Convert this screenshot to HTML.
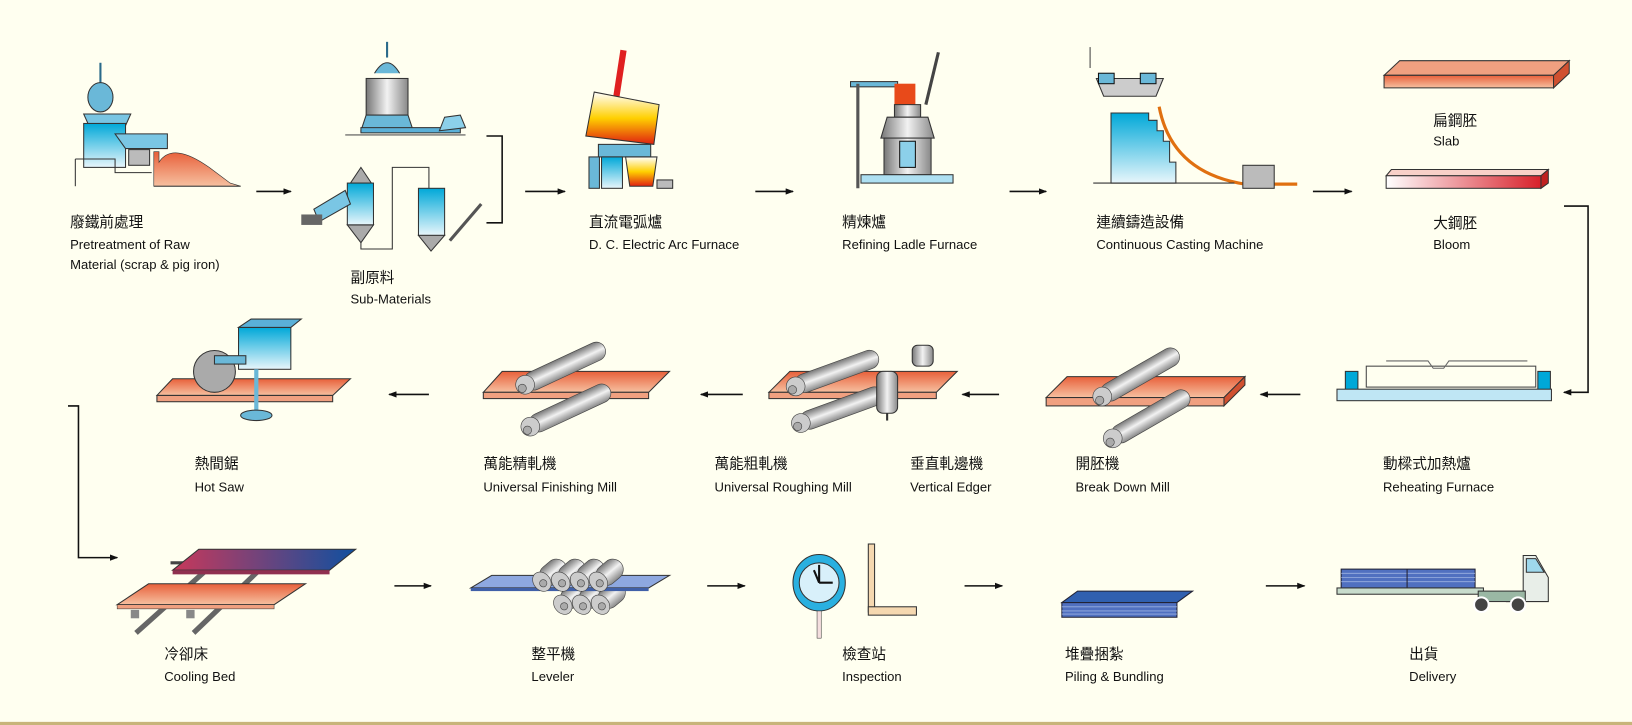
<!DOCTYPE html>
<html><head><meta charset="utf-8"><style>
html,body{margin:0;padding:0;background:#fffff0;}
svg{display:block;}
text{font-family:"Liberation Sans","Noto Sans CJK TC",sans-serif;fill:#111;}
.c{font-size:14px;}
.e{font-size:12.5px;}
</style></head><body>
<svg width="1632" height="725" viewBox="0 0 1560 693" preserveAspectRatio="none" xmlns="http://www.w3.org/2000/svg">
<defs>
<marker id="ah" markerWidth="8" markerHeight="6" refX="7" refY="3" orient="auto" markerUnits="userSpaceOnUse"><path d="M0,0 L8,3 L0,6 z" fill="#111"/></marker>
<linearGradient id="org" x1="0" y1="0" x2="0" y2="1"><stop offset="0" stop-color="#e8603a"/><stop offset="1" stop-color="#f6c0a0"/></linearGradient>
<linearGradient id="bloom" x1="0" y1="0" x2="1" y2="0"><stop offset="0" stop-color="#fff"/><stop offset="1" stop-color="#d8202a"/></linearGradient>
<linearGradient id="blu" x1="0" y1="0" x2="0" y2="1"><stop offset="0" stop-color="#00a8d8"/><stop offset="1" stop-color="#e8f6fb"/></linearGradient>
<linearGradient id="gry" x1="0" y1="0" x2="0" y2="1"><stop offset="0" stop-color="#777"/><stop offset=".5" stop-color="#f2f2f2"/><stop offset="1" stop-color="#888"/></linearGradient>
<linearGradient id="gryh" x1="0" y1="0" x2="1" y2="0"><stop offset="0" stop-color="#777"/><stop offset=".5" stop-color="#f2f2f2"/><stop offset="1" stop-color="#888"/></linearGradient>
<linearGradient id="pb" x1="0" y1="0" x2="1" y2="0"><stop offset="0" stop-color="#c8385a"/><stop offset="1" stop-color="#1050a0"/></linearGradient>
<linearGradient id="fire" x1="0" y1="0" x2="0" y2="1"><stop offset="0" stop-color="#fff"/><stop offset=".5" stop-color="#ffd000"/><stop offset="1" stop-color="#e02010"/></linearGradient>
<g id="roll"><rect x="-42" y="-9" width="84" height="18" rx="9" fill="url(#gry)" stroke="#444" stroke-width=".6"/><circle cx="-42" cy="0" r="9" fill="#ccc" stroke="#444" stroke-width=".6"/><circle cx="-46" cy="2" r="4" fill="#aaa" stroke="#444" stroke-width=".6"/></g>
<g id="lr"><rect x="0" y="-10" width="28" height="20" rx="10" fill="url(#gry)" stroke="#444" stroke-width=".6"/><ellipse cx="0" cy="0" rx="8" ry="10" fill="#ccc" stroke="#444" stroke-width=".6"/><circle cx="0" cy="2" r="3.5" fill="#aaa" stroke="#444" stroke-width=".6"/></g>
</defs>

<rect x="0" y="690" width="1560" height="3" fill="#c8b47a"/>

<!-- ROW 1 illustrations -->
<line x1="96" y1="60" x2="96" y2="80" stroke="#2a6a8a" stroke-width="2"/>
<ellipse cx="96" cy="93" rx="12" ry="14" fill="#6ab8d8" stroke="#333"/>
<path d="M80,109 L125,109 L120,120 L85,120 z" fill="#79c5e3" stroke="#333"/>
<rect x="80" y="118" width="40" height="42" fill="url(#blu)" stroke="#333"/>
<path d="M110,128 L160,128 L160,142 L120,142 z" fill="#7ac6e4" stroke="#333"/>
<rect x="123" y="143" width="20" height="15" fill="#bbb" stroke="#333"/>
<path d="M72,152 L72,178" stroke="#333"/><path d="M72,152 L110,152 L110,165 L145,165" fill="none" stroke="#333"/>
<path d="M147,178 L147,145 L152,145 L152,155 Q165,135 200,160 L220,175 L230,178 z" fill="url(#org)" stroke="#333" stroke-width=".6"/>
<line x1="147" y1="178" x2="230" y2="178" stroke="#333"/>
<line x1="370" y1="40" x2="370" y2="55" stroke="#2a6a8a" stroke-width="2"/>
<path d="M358,70 Q370,50 382,70" fill="#6ab8d8" stroke="#333"/>
<rect x="350" y="75" width="40" height="35" fill="url(#gryh)" stroke="#333"/>
<path d="M350,110 L390,110 L395,125 L345,125 z" fill="#6ab8d8" stroke="#333"/>
<rect x="345" y="122" width="95" height="5" fill="#5ab0d8" stroke="#333"/>
<path d="M420,125 L425,112 L440,110 L445,122 z" fill="#8cd0ea" stroke="#333"/>
<line x1="330" y1="129" x2="445" y2="129" stroke="#555"/>
<path d="M335,175 L345,160 L355,175 z" fill="#aaa" stroke="#333"/>
<rect x="332" y="175" width="25" height="40" fill="url(#blu)" stroke="#333"/>
<path d="M332,215 L357,215 L345,232 z" fill="#aaa" stroke="#333"/>
<path d="M300,200 L330,182 L335,195 L305,212 z" fill="#7ac6e4" stroke="#333"/>
<rect x="288" y="205" width="20" height="10" fill="#666"/>
<path d="M345,232 L345,238 L375,238 L375,160 L410,160 L410,180" fill="none" stroke="#333"/>
<rect x="400" y="180" width="25" height="45" fill="url(#blu)" stroke="#333"/>
<path d="M400,225 L412,240 L425,225 z" fill="#aaa" stroke="#333"/>
<line x1="430" y1="230" x2="460" y2="195" stroke="#555" stroke-width="3"/>
<path d="M465,130 L480,130 L480,213 L465,213" fill="none" stroke="#111" stroke-width="1.5"/>
<line x1="596" y1="48" x2="588" y2="100" stroke="#e02020" stroke-width="6"/>
<path d="M568,88 L630,100 L625,138 L560,130 z" fill="url(#fire)" stroke="#333"/>
<rect x="572" y="138" width="50" height="12" fill="#6ab8d8" stroke="#333"/>
<rect x="563" y="150" width="10" height="30" fill="#6ab8d8" stroke="#333"/>
<rect x="575" y="150" width="20" height="30" fill="url(#blu)" stroke="#333"/>
<path d="M598,150 L628,150 L624,178 L602,178 z" fill="url(#fire)" stroke="#333"/>
<rect x="628" y="172" width="15" height="8" fill="#bbb" stroke="#333"/>
<rect x="813" y="78" width="45" height="5" fill="#6ab8d8" stroke="#333"/>
<line x1="820" y1="80" x2="820" y2="180" stroke="#555" stroke-width="3"/>
<rect x="855" y="80" width="20" height="20" fill="#e84a1a"/>
<line x1="885" y1="100" x2="897" y2="50" stroke="#444" stroke-width="3"/>
<rect x="855" y="100" width="25" height="12" fill="url(#gryh)" stroke="#333"/>
<path d="M848,112 L887,112 L893,132 L842,132 z" fill="url(#gryh)" stroke="#333"/>
<rect x="845" y="132" width="45" height="35" fill="url(#gryh)" stroke="#333"/>
<rect x="860" y="135" width="15" height="25" fill="#8cd0ea" stroke="#111"/>
<rect x="823" y="167" width="88" height="8" fill="#aee0f2" stroke="#333"/>
<line x1="1042" y1="45" x2="1042" y2="65" stroke="#444"/>
<path d="M1048,75 L1112,75 L1105,92 L1055,92 z" fill="#ccc" stroke="#333"/>
<rect x="1050" y="70" width="15" height="10" fill="#6ab8d8" stroke="#111"/>
<rect x="1090" y="70" width="15" height="10" fill="#6ab8d8" stroke="#111"/>
<path d="M1062,108 L1098,108 L1098,115 L1106,115 L1106,125 L1112,125 L1112,135 L1118,135 L1118,155 L1124,155 L1124,175 L1062,175 z" fill="url(#blu)" stroke="#333"/>
<path d="M1108,102 Q1120,165 1190,176 L1240,176" fill="none" stroke="#e07010" stroke-width="3"/>
<rect x="1188" y="158" width="30" height="22" fill="#bbb" stroke="#333"/>
<line x1="1045" y1="175" x2="1180" y2="175" stroke="#333"/>
<path d="M1338,58 L1500,58 L1485,72 L1323,72 z" fill="#f0a080" stroke="#333"/>
<path d="M1323,72 L1485,72 L1485,84 L1323,84 z" fill="url(#org)" stroke="#333"/>
<path d="M1485,72 L1500,58 L1500,70 L1485,84 z" fill="#d05030" stroke="#333"/>
<path d="M1330,162 L1480,162 L1473,168 L1325,168 z" fill="#f8d0c8" stroke="#333"/>
<rect x="1325" y="168" width="148" height="12" fill="url(#bloom)" stroke="#333"/>
<path d="M1473,168 L1480,162 L1480,175 L1473,180 z" fill="#c02020" stroke="#333"/>

<g stroke="#111" stroke-width="1.5" marker-end="url(#ah)">
<line x1="245" y1="183" x2="278" y2="183"/>
<line x1="502" y1="183" x2="540" y2="183"/>
<line x1="722" y1="183" x2="758" y2="183"/>
<line x1="965" y1="183" x2="1000" y2="183"/>
<line x1="1255" y1="183" x2="1292" y2="183"/>
</g>
<path d="M1495,197 L1518,197 L1518,375 L1495,375" fill="none" stroke="#111" stroke-width="1.5" marker-end="url(#ah)"/>

<text class="c" x="67" y="217">廢鐵前處理</text>
<text class="e" x="67" y="238">Pretreatment of Raw</text>
<text class="e" x="67" y="257">Material (scrap &amp; pig iron)</text>
<text class="c" x="335" y="270">副原料</text>
<text class="e" x="335" y="290">Sub-Materials</text>
<text class="c" x="563" y="217">直流電弧爐</text>
<text class="e" x="563" y="238">D. C. Electric Arc Furnace</text>
<text class="c" x="805" y="217">精煉爐</text>
<text class="e" x="805" y="238">Refining Ladle Furnace</text>
<text class="c" x="1048" y="217">連續鑄造設備</text>
<text class="e" x="1048" y="238">Continuous Casting Machine</text>
<text class="c" x="1370" y="120">扁鋼胚</text>
<text class="e" x="1370" y="139">Slab</text>
<text class="c" x="1370" y="218">大鋼胚</text>
<text class="e" x="1370" y="238">Bloom</text>

<!-- ROW 2 -->
<rect x="1306" y="350" width="162" height="20" fill="none" stroke="#444"/>
<path d="M1325,345 L1365,345 L1370,352 L1380,352 L1385,345 L1460,345" fill="none" stroke="#666"/>
<rect x="1286" y="355" width="12" height="18" fill="#00a8d8" stroke="#333"/>
<rect x="1470" y="355" width="12" height="18" fill="#00a8d8" stroke="#333"/>
<rect x="1306" y="372" width="162" height="4" fill="#555"/>
<rect x="1278" y="372" width="205" height="11" fill="#bfe6f4" stroke="#333"/>
<path d="M1020,360 L1190,360 L1170,380 L1000,380 z" fill="url(#org)" stroke="#333"/>
<rect x="1000" y="380" width="170" height="8" fill="#f0a080" stroke="#333"/>
<path d="M1170,380 L1190,360 L1190,368 L1170,388 z" fill="#d05030" stroke="#333"/>
<g transform="translate(1090,358) rotate(-30)"><use href="#roll"/></g>
<g transform="translate(1100,398) rotate(-30)"><use href="#roll"/></g>
<path d="M755,355 L915,355 L895,375 L735,375 z" fill="url(#org)" stroke="#333"/>
<rect x="735" y="375" width="160" height="6" fill="#f0a080" stroke="#333"/>
<g transform="translate(800,355) rotate(-20)"><use href="#roll"/></g>
<g transform="translate(805,390) rotate(-20)"><use href="#roll"/></g>
<rect x="838" y="355" width="20" height="40" rx="6" fill="url(#gryh)" stroke="#333"/>
<line x1="848" y1="395" x2="848" y2="402" stroke="#333" stroke-width="2"/>
<rect x="872" y="330" width="20" height="20" rx="5" fill="url(#gryh)" stroke="#333"/>
<path d="M480,355 L640,355 L620,375 L462,375 z" fill="url(#org)" stroke="#333"/>
<rect x="462" y="375" width="158" height="6" fill="#f0a080" stroke="#333"/>
<g transform="translate(540,350) rotate(-25)"><use href="#roll"/></g>
<g transform="translate(545,390) rotate(-25)"><use href="#roll"/></g>
<path d="M165,362 L335,362 L318,378 L150,378 z" fill="url(#org)" stroke="#333"/>
<rect x="150" y="378" width="168" height="6" fill="#f0a080" stroke="#333"/>
<rect x="228" y="313" width="50" height="40" fill="url(#blu)" stroke="#333"/>
<path d="M228,313 L240,305 L288,305 L278,313 z" fill="#5ab0d8" stroke="#333"/>
<circle cx="205" cy="355" r="20" fill="#aaa" stroke="#333"/>
<rect x="205" y="340" width="30" height="8" fill="#6ab8d8" stroke="#333"/>
<line x1="245" y1="353" x2="245" y2="395" stroke="#6ab8d8" stroke-width="4"/>
<ellipse cx="245" cy="397" rx="15" ry="5" fill="#6ab8d8" stroke="#333"/>

<g stroke="#111" stroke-width="1.5" marker-end="url(#ah)">
<line x1="1243" y1="377" x2="1205" y2="377"/>
<line x1="955" y1="377" x2="920" y2="377"/>
<line x1="710" y1="377" x2="670" y2="377"/>
<line x1="410" y1="377" x2="372" y2="377"/>
</g>
<path d="M65,388 L75,388 L75,533 L112,533" fill="none" stroke="#111" stroke-width="1.5" marker-end="url(#ah)"/>

<text class="c" x="1322" y="448">動樑式加熱爐</text>
<text class="e" x="1322" y="470">Reheating Furnace</text>
<text class="c" x="1028" y="448">開胚機</text>
<text class="e" x="1028" y="470">Break Down Mill</text>
<text class="c" x="870" y="448">垂直軋邊機</text>
<text class="e" x="870" y="470">Vertical Edger</text>
<text class="c" x="683" y="448">萬能粗軋機</text>
<text class="e" x="683" y="470">Universal Roughing Mill</text>
<text class="c" x="462" y="448">萬能精軋機</text>
<text class="e" x="462" y="470">Universal Finishing Mill</text>
<text class="c" x="186" y="448">熱間鋸</text>
<text class="e" x="186" y="470">Hot Saw</text>

<!-- ROW 3 -->
<!-- cooling bed rails -->
<path d="M130,605 L205,538 M185,605 L255,538" stroke="#666" stroke-width="5"/>
<path d="M163,538 L175,538 M235,538 L247,538" stroke="#444" stroke-width="3"/>
<path d="M165,545 L190,525 L340,525 L315,545 z" fill="url(#pb)" stroke="#333"/>
<rect x="165" y="545" width="150" height="4" fill="#903050"/>
<path d="M112,578 L142,558 L292,558 L262,578 z" fill="url(#org)" stroke="#333"/>
<rect x="112" y="578" width="150" height="4" fill="#f0a080" stroke="#333" stroke-width=".5"/>
<rect x="125" y="583" width="8" height="8" fill="#888"/><rect x="178" y="583" width="8" height="8" fill="#888"/>
<!-- leveler -->
<g transform="translate(0,0)">
<g transform="translate(538,578) rotate(-40)"><use href="#lr"/></g>
<g transform="translate(556,578) rotate(-40)"><use href="#lr"/></g>
<g transform="translate(574,578) rotate(-40)"><use href="#lr"/></g>
</g>
<path d="M450,562 L470,550 L640,550 L620,562 z" fill="#8ea8e0" stroke="#333"/>
<rect x="450" y="562" width="170" height="3" fill="#4060a8"/>
<g transform="translate(518,556) rotate(-40)"><use href="#lr"/></g>
<g transform="translate(536,556) rotate(-40)"><use href="#lr"/></g>
<g transform="translate(554,556) rotate(-40)"><use href="#lr"/></g>
<g transform="translate(572,556) rotate(-40)"><use href="#lr"/></g>
<!-- inspection -->
<rect x="781" y="533" width="4" height="16" fill="#9ed4ec" stroke="#333" stroke-width=".5"/>
<ellipse cx="783" cy="557" rx="25" ry="27" fill="#2ab0e0" stroke="#333"/>
<circle cx="783" cy="557" r="19" fill="#d8f0fa" stroke="#333"/>
<path d="M783,557 L783,540 M783,557 L796,557 M783,557 L778,545" stroke="#111" stroke-width="2"/>
<rect x="781" y="584" width="4" height="26" fill="#f4dede" stroke="#333" stroke-width=".5"/>
<rect x="830" y="520" width="6" height="65" fill="#f5d8b0" stroke="#333"/>
<rect x="830" y="580" width="46" height="8" fill="#f5d8b0" stroke="#333"/>
<!-- piling -->
<path d="M1015,576 L1030,565 L1140,565 L1125,576 z" fill="#3060b0" stroke="#223"/>
<rect x="1015" y="576" width="110" height="14" fill="#5070c0" stroke="#223"/>
<path d="M1015,580 L1125,580 M1015,584 L1125,584 M1015,587 L1125,587" stroke="#9ab0e0" stroke-width=".8"/>
<!-- truck -->
<rect x="1282" y="544" width="128" height="18" fill="#5070c0" stroke="#223"/>
<path d="M1282,548 L1410,548 M1282,552 L1410,552 M1282,556 L1410,556" stroke="#9ab0e0" stroke-width=".8"/>
<line x1="1345" y1="544" x2="1345" y2="562" stroke="#223"/>
<rect x="1278" y="562" width="140" height="6" fill="#c8dccc" stroke="#333"/>
<path d="M1456,568 L1456,531 L1468,531 L1480,552 L1480,575 L1440,575 L1440,568 z" fill="#e8eee8" stroke="#333"/>
<rect x="1413" y="565" width="45" height="10" fill="#9ab8a4" stroke="#333"/>
<path d="M1459,534 L1468,534 L1476,547 L1459,547 z" fill="#9ed8ec" stroke="#333"/>
<circle cx="1416" cy="578" r="7" fill="#444" stroke="#fff" stroke-width="2"/>
<circle cx="1451" cy="578" r="7" fill="#444" stroke="#fff" stroke-width="2"/>

<g stroke="#111" stroke-width="1.5" marker-end="url(#ah)">
<line x1="377" y1="560" x2="412" y2="560"/>
<line x1="676" y1="560" x2="712" y2="560"/>
<line x1="922" y1="560" x2="958" y2="560"/>
<line x1="1210" y1="560" x2="1247" y2="560"/>
</g>

<text class="c" x="157" y="630">冷卻床</text>
<text class="e" x="157" y="651">Cooling Bed</text>
<text class="c" x="508" y="630">整平機</text>
<text class="e" x="508" y="651">Leveler</text>
<text class="c" x="805" y="630">檢查站</text>
<text class="e" x="805" y="651">Inspection</text>
<text class="c" x="1018" y="630">堆疊捆紮</text>
<text class="e" x="1018" y="651">Piling &amp; Bundling</text>
<text class="c" x="1347" y="630">出貨</text>
<text class="e" x="1347" y="651">Delivery</text>
</svg>
</body></html>
